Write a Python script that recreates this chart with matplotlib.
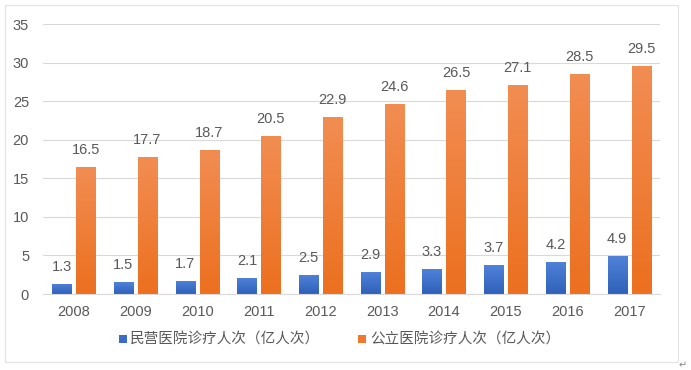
import numpy as np
import matplotlib.pyplot as plt
from matplotlib.patches import Rectangle, Patch
from matplotlib.colors import LinearSegmentedColormap

plt.rcParams['font.family'] = ['Liberation Sans', 'Noto Sans CJK SC', 'DejaVu Sans']

years = ['2008', '2009', '2010', '2011', '2012', '2013', '2014', '2015', '2016', '2017']
private = [1.3, 1.5, 1.7, 2.1, 2.5, 2.9, 3.3, 3.7, 4.2, 4.9]
public = [16.5, 17.7, 18.7, 20.5, 22.9, 24.6, 26.5, 27.1, 28.5, 29.5]
series_names = ['民营医院诊疗人次（亿人次）', '公立医院诊疗人次（亿人次）']

blue_top, blue_bot = '#4F82D8', '#3061B9'
orange_top, orange_bot = '#F28D52', '#EC701F'
text_gray = '#595959'
grid_gray = '#D9D9D9'

fig = plt.figure(figsize=(6.91, 3.70), dpi=100)
ax = fig.add_axes([0.0622, 0.2054, 0.8929, 0.7297])

x = np.arange(len(years))
w = 0.31
off = 0.195


def gradient_bars(xpos, vals, ctop, cbot):
    cmap = LinearSegmentedColormap.from_list('g', [cbot, ctop])
    bars = ax.bar(xpos, vals, w, color=cbot, zorder=2)
    for b in bars:
        x0, y0 = b.get_x(), b.get_y()
        bw, bh = b.get_width(), b.get_height()
        grad = np.linspace(0, 1, 64).reshape(-1, 1)
        im = ax.imshow(grad, cmap=cmap, origin='lower', aspect='auto',
                       extent=[x0, x0 + bw, y0, y0 + bh], zorder=2.5)
        im.set_clip_path(b)
    return bars


gradient_bars(x - off, private, blue_top, blue_bot)
gradient_bars(x + off, public, orange_top, orange_bot)

for xi, v in zip(x - off, private):
    ax.text(xi, v + 1.3, f'{v}', ha='center', va='bottom', fontsize=10.5, color=text_gray)
for xi, v in zip(x + off, public):
    ax.text(xi, v + 1.3, f'{v}', ha='center', va='bottom', fontsize=10.5, color=text_gray)

ax.set_xlim(-0.5, len(years) - 0.5)
ax.set_ylim(0, 35)
ax.set_yticks(range(0, 36, 5))
ax.set_xticks(x)
ax.set_xticklabels(years)
ax.tick_params(axis='both', length=0, labelsize=10.5, labelcolor=text_gray)
ax.tick_params(axis='y', pad=10)
ax.tick_params(axis='x', pad=8)
ax.grid(axis='y', color=grid_gray, lw=0.8, zorder=0)
ax.set_axisbelow(True)
for s in ['top', 'right', 'left']:
    ax.spines[s].set_visible(False)
ax.spines['bottom'].set_color(grid_gray)
ax.spines['bottom'].set_linewidth(0.8)

handles = [Patch(facecolor='#3A6CC8'), Patch(facecolor='#EE7A30')]
fig.legend(handles, series_names, loc='center', bbox_to_anchor=(0.491, 0.081), ncol=2,
           frameon=False, handlelength=0.55, handleheight=0.55, handletextpad=0.25,
           columnspacing=2.6, fontsize=10.5, labelcolor=text_gray)

frame = Rectangle((0.0072, 0.0216), 0.9740, 0.9644, transform=fig.transFigure,
                  fill=False, edgecolor='#E3E3E3', lw=0.8)
fig.patches.append(frame)
fig.text(0.988, 0.013, '↵', fontsize=7, color='#888888', ha='center', va='center',
         family='DejaVu Sans')

fig.savefig('out.png', dpi=100)
